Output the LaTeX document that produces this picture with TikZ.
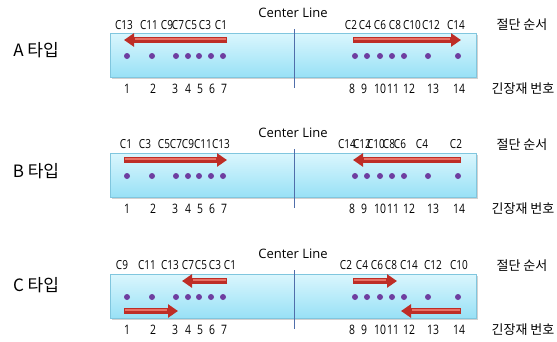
\documentclass[tikz,border=0pt]{standalone}
\usepackage{fontspec}
\setmainfont{Open Sans}
\newfontfamily\krfont{Noto Sans CJK KR}
\usetikzlibrary{arrows.meta}
\definecolor{boxtop}{RGB}{218,246,253}
\definecolor{boxbot}{RGB}{152,225,246}
\definecolor{boxline}{RGB}{128,198,222}
\definecolor{clcol}{RGB}{80,110,170}
\definecolor{dotcol}{RGB}{110,62,160}
\definecolor{arrcol}{RGB}{190,45,38}
\definecolor{arrhi}{RGB}{232,112,100}
\newcommand\nrw[1]{\scalebox{0.8}[1]{#1}}
\tikzset{
  boxnode/.style={draw=boxline, line width=0.8pt, top color=boxtop, bottom color=boxbot,
    minimum width=366pt, minimum height=44pt, inner sep=0pt},
  shadownode/.style={fill=black!18, minimum width=366pt, minimum height=44pt, inner sep=0pt},
  cline/.style={draw=clcol, line width=0.8pt},
  cltext/.style={font=\fontsize{13}{14}\selectfont, inner sep=0pt},
  clab/.style={font=\fontsize{12.5}{13}\selectfont, inner sep=0pt},
  numlab/.style={font=\fontsize{13}{14}\selectfont, inner sep=0pt},
  typlab/.style={font=\krfont\fontsize{17}{18}\selectfont, inner sep=0pt},
  krlab/.style={font=\krfont\fontsize{13}{14}\selectfont, inner sep=0pt},
  dotnode/.style={circle, fill=dotcol, minimum size=6pt, inner sep=0pt},
  arrbody/.style={draw=arrcol, line width=6.5pt, -{Triangle[length=10pt,width=13pt]}},
  arrhigh/.style={draw=arrhi, line width=2pt, shorten >=11pt, shorten <=1pt,
    transform canvas={yshift=1pt}},
}
\newcommand\redarrow[2]{\draw[arrbody] (#1) -- (#2); \draw[arrhigh] (#1) -- (#2);}
% #1 prefix, #2 offset, #3 type text, #4 type label y
\newcommand\drawpanel[4]{%
  \node[shadownode] (#1sh) at (294.5,{#2+56.5}) {};
  \node[boxnode] (#1box) at (293,{#2+55}) {};
  \coordinate (#1clt) at (294,{#2+29});
  \coordinate (#1clb) at (294,{#2+88});
  \draw[cline] (#1clt) -- (#1clb);
  \node[cltext] (#1cl) at (293,{#2+13}) {Center Line};
  \node[typlab] (#1typ) at (36,#4) {#3 타입};
  \node[krlab] (#1order) at (522,{#2+25}) {절단 순서};
  \node[krlab] (#1numl) at (523,{#2+89}) {긴장재 번호};
  \foreach \x [count=\i] in {127,152,176,188,199,211,223,355,367,380,392,404,428,458}
    \node[dotnode] (#1d\i) at (\x,{#2+56}) {};
  \foreach \x [count=\i] in {127,153,175,188,200,212,224,352,364,380,393,409,433,459}
    \node[numlab] (#1n\i) at (\x,{#2+89}) {\nrw{\i}};
}
\begin{document}
\begin{tikzpicture}[x=1pt,y=-1pt]
\useasboundingbox (0,0) rectangle (557,341);
% ---------- A ----------
\drawpanel{A}{0}{A}{50}
\foreach \x/\t in {124/C13,149/C11,167/C9,178/C7,191/C5,205/C3,221/C1,
                   351/C2,365/C4,380/C6,395/C8,412/C10,431/C12,456/C14}
  \node[clab] (Ac\t) at (\x,25) {\nrw{\t}};
\coordinate (Aa1s) at (227,40); \coordinate (Aa1e) at (124,40);
\coordinate (Aa2s) at (353,40); \coordinate (Aa2e) at (461,40);
\redarrow{Aa1s}{Aa1e}
\redarrow{Aa2s}{Aa2e}
% ---------- B ----------
\drawpanel{B}{120}{B}{171}
\foreach \x/\t in {126/C1,145/C3,164/C5,176/C7,188/C9,203/C11,221/C13,
                   347/C14,362/C12,376/C10,389/C8,400/C6,422/C4,456/C2}
  \node[clab] (Bc\t) at (\x,144) {\nrw{\t}};
\coordinate (Ba1s) at (124,160); \coordinate (Ba1e) at (227,160);
\coordinate (Ba2s) at (461,160); \coordinate (Ba2e) at (353,160);
\redarrow{Ba1s}{Ba1e}
\redarrow{Ba2s}{Ba2e}
% ---------- C ----------
\drawpanel{C}{241}{C}{285}
\foreach \x/\t in {122/C9,147/C11,170/C13,188/C7,201/C5,215/C3,230/C1,
                   346/C2,362/C4,377/C6,391/C8,409/C14,433/C12,459/C10}
  \node[clab] (Cc\t) at (\x,265) {\nrw{\t}};
\coordinate (Ca1s) at (227,281); \coordinate (Ca1e) at (182,281);
\coordinate (Ca2s) at (124,311); \coordinate (Ca2e) at (178,311);
\coordinate (Ca3s) at (353,281); \coordinate (Ca3e) at (397,281);
\coordinate (Ca4s) at (461,311); \coordinate (Ca4e) at (401,311);
\redarrow{Ca1s}{Ca1e}
\redarrow{Ca2s}{Ca2e}
\redarrow{Ca3s}{Ca3e}
\redarrow{Ca4s}{Ca4e}
\end{tikzpicture}
\end{document}
